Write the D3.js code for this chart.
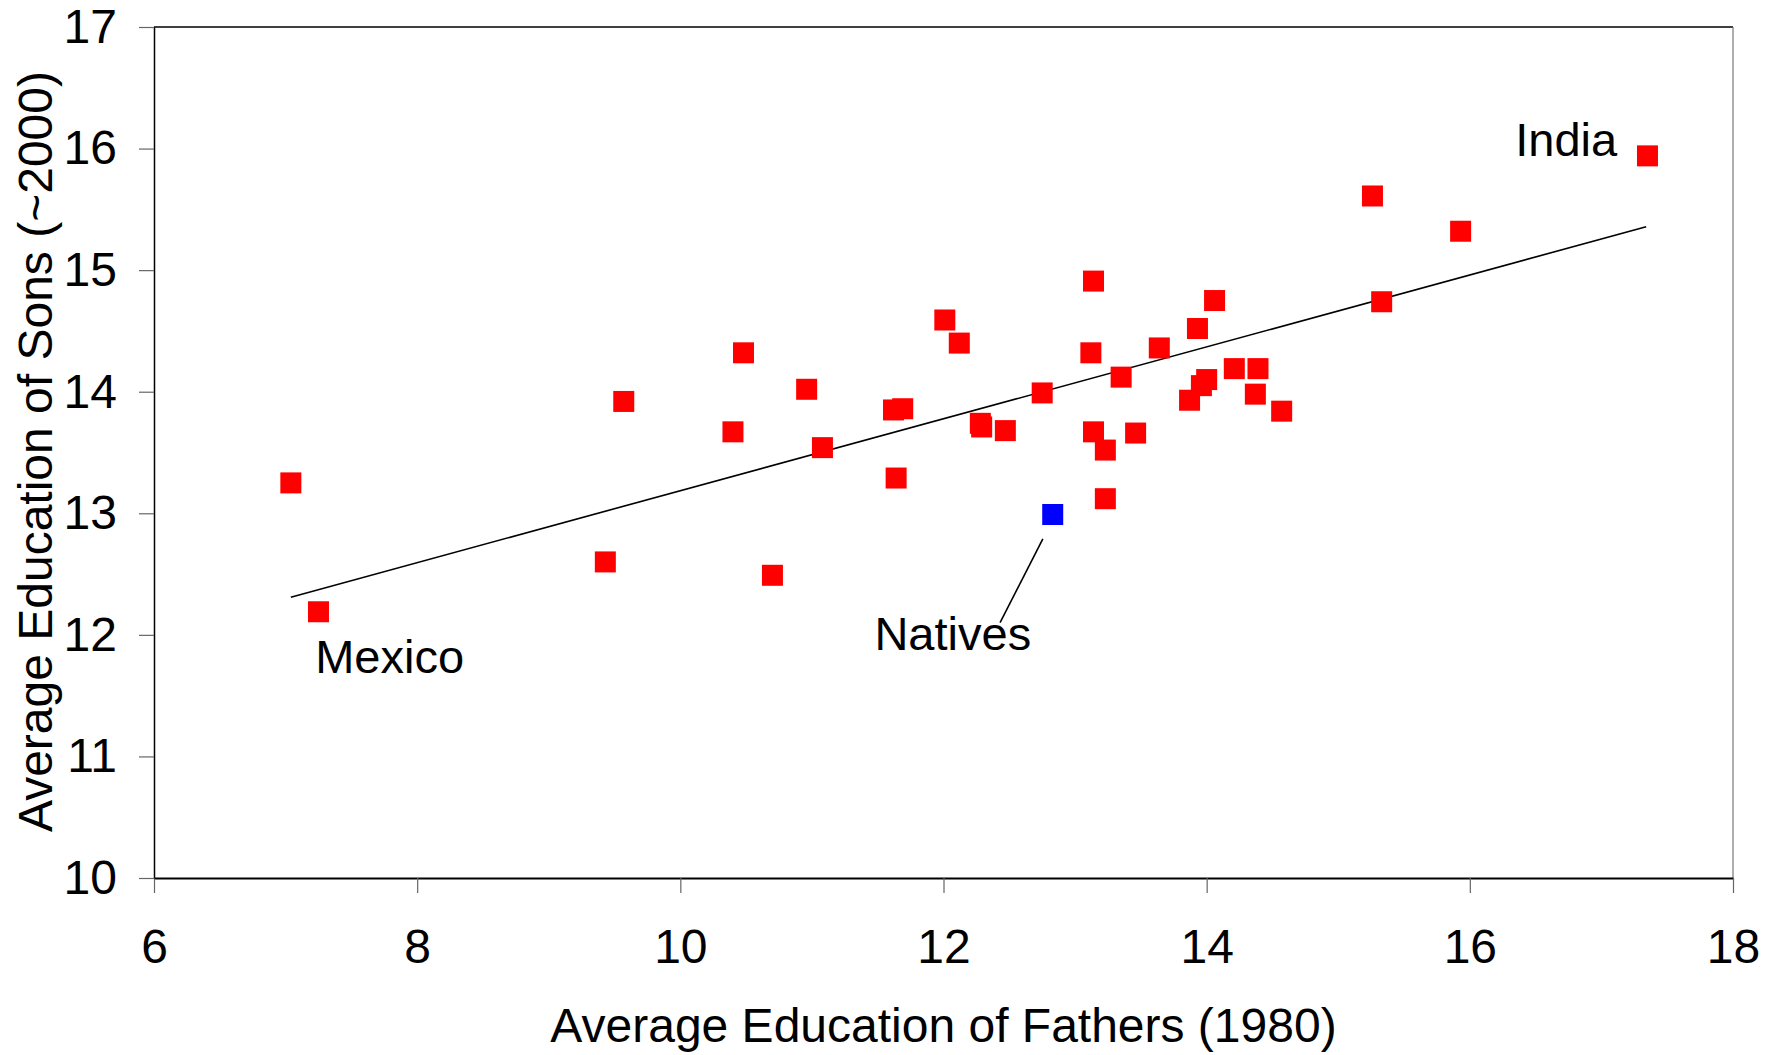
<!DOCTYPE html>
<meta charset="utf-8" />
<head>
  <script src="https://d3js.org/d3.v7.min.js"></script>
  <style>
    body { margin: 0; background: #fff; }
    text { font-family: "Liberation Sans", Arial, sans-serif; fill: #000; }
  </style>
</head>
<body>
  <div id="my_chart"></div>
</body>
<script>
  // fathers' education (1980) and sons' education (~2000), one entry per group
  var fathersEdu = [7.04, 7.25, 9.43, 9.57, 10.40, 10.48, 10.70, 10.96, 11.08, 11.62,
    11.69, 11.64, 12.01, 12.12, 12.28, 12.29, 12.47, 12.75, 13.14, 13.12,
    13.14, 13.23, 13.23, 13.35, 13.46, 13.64, 13.87, 13.93, 13.96, 14.00,
    14.06, 14.21, 14.37, 14.39, 14.57, 15.26, 15.33, 15.93, 17.35];
  var sonsEdu = [13.25, 12.19, 12.60, 13.92, 13.67, 14.32, 12.49, 14.02, 13.54, 13.85,
    13.86, 13.29, 14.59, 14.40, 13.74, 13.71, 13.68, 13.99, 14.91, 14.32,
    13.67, 13.52, 13.12, 14.12, 13.66, 14.36, 13.93, 14.52, 14.05, 14.10,
    14.75, 14.19, 13.98, 14.19, 13.84, 15.61, 14.74, 15.32, 15.94];

  // natives (blue point)
  var nativesX = [12.83];
  var nativesY = [12.99];

  // fitted line, as drawn
  var trendX = [7.04, 17.34];
  var trendY = [12.31, 15.357];

  var xTicks = [6, 8, 10, 12, 14, 16, 18];
  var yTicks = [10, 11, 12, 13, 14, 15, 16, 17];

  var margin = { top: 27, right: 47, bottom: 177, left: 154 },
    width = 1780 - margin.left - margin.right,
    height = 1055 - margin.top - margin.bottom;

  var svg = d3
    .select("#my_chart")
    .append("svg")
    .attr("width", 1780)
    .attr("height", 1055);

  var g = svg
    .append("g")
    .attr("transform", "translate(" + margin.left + "," + margin.top + ")");

  var x = d3.scaleLinear().domain([6, 18]).range([0, width]);
  var y = d3.scaleLinear().domain([10, 17]).range([height, 0]);

  // frame: top black, right grey
  g.append("line")
    .attr("x1", 0).attr("x2", width).attr("y1", 0).attr("y2", 0)
    .attr("stroke", "#000").attr("stroke-width", 1.5);
  g.append("line")
    .attr("x1", width).attr("x2", width).attr("y1", 0).attr("y2", height)
    .attr("stroke", "#777").attr("stroke-width", 1.2);

  // X axis
  var xAxis = g
    .append("g")
    .attr("transform", "translate(0," + height + ")")
    .call(d3.axisBottom(x).tickValues(xTicks).tickFormat(d3.format("d"))
      .tickSize(15).tickPadding(36).tickSizeOuter(0));
  xAxis.select(".domain").attr("stroke", "#000").attr("stroke-width", 2);
  xAxis.selectAll(".tick line").attr("stroke", "#666").attr("stroke-width", 1.2);
  xAxis.selectAll("text").style("font-size", "48px").style("font-family", "Liberation Sans, Arial, sans-serif").attr("fill", "#000");

  // Y axis
  var yAxis = g
    .append("g")
    .call(d3.axisLeft(y).tickValues(yTicks).tickFormat(d3.format("d"))
      .tickSize(15).tickPadding(22).tickSizeOuter(0));
  yAxis.select(".domain").attr("stroke", "#000").attr("stroke-width", 1.5);
  yAxis.selectAll(".tick line").attr("stroke", "#666").attr("stroke-width", 1.2);
  yAxis.selectAll("text").style("font-size", "48px").style("font-family", "Liberation Sans, Arial, sans-serif").attr("fill", "#000");

  // axis titles
  svg.append("text")
    .attr("x", margin.left + width / 2)
    .attr("y", 1042)
    .style("text-anchor", "middle")
    .style("font-size", "48px")
    .text("Average Education of Fathers (1980)");

  svg.append("text")
    .attr("transform", "translate(52," + (margin.top + height / 2 - 1) + ") rotate(-90)")
    .style("text-anchor", "middle")
    .style("font-size", "48px")
    .text("Average Education of Sons (~2000)");

  // trend line
  g.append("path")
    .datum(d3.zip(trendX, trendY))
    .attr("d", d3.line().x(function (d) { return x(d[0]); }).y(function (d) { return y(d[1]); }))
    .attr("stroke", "#000")
    .attr("stroke-width", 1.6)
    .attr("fill", "none");

  var sq = 21;
  g.selectAll(".pt")
    .data(d3.zip(fathersEdu, sonsEdu))
    .enter()
    .append("rect")
    .attr("class", "pt")
    .attr("x", function (d) { return x(d[0]) - sq / 2; })
    .attr("y", function (d) { return y(d[1]) - sq / 2; })
    .attr("width", sq)
    .attr("height", sq)
    .attr("fill", "#ff0000");

  g.selectAll(".nat")
    .data(d3.zip(nativesX, nativesY))
    .enter()
    .append("rect")
    .attr("class", "nat")
    .attr("x", function (d) { return x(d[0]) - sq / 2; })
    .attr("y", function (d) { return y(d[1]) - sq / 2; })
    .attr("width", sq)
    .attr("height", sq)
    .attr("fill", "#0000ff");

  // leader line for natives
  g.append("line")
    .attr("x1", x(12.755)).attr("y1", y(12.79))
    .attr("x2", x(12.43)).attr("y2", y(12.10))
    .attr("stroke", "#000").attr("stroke-width", 1.6);

  // labels
  g.append("text").attr("x", x(17.12)).attr("y", y(15.94))
    .style("text-anchor", "end").style("font-size", "47px").text("India");
  g.append("text").attr("x", x(7.225)).attr("y", y(11.69))
    .style("font-size", "47px").text("Mexico");
  g.append("text").attr("x", x(11.475)).attr("y", y(11.875))
    .style("font-size", "47px").text("Natives");
</script>
